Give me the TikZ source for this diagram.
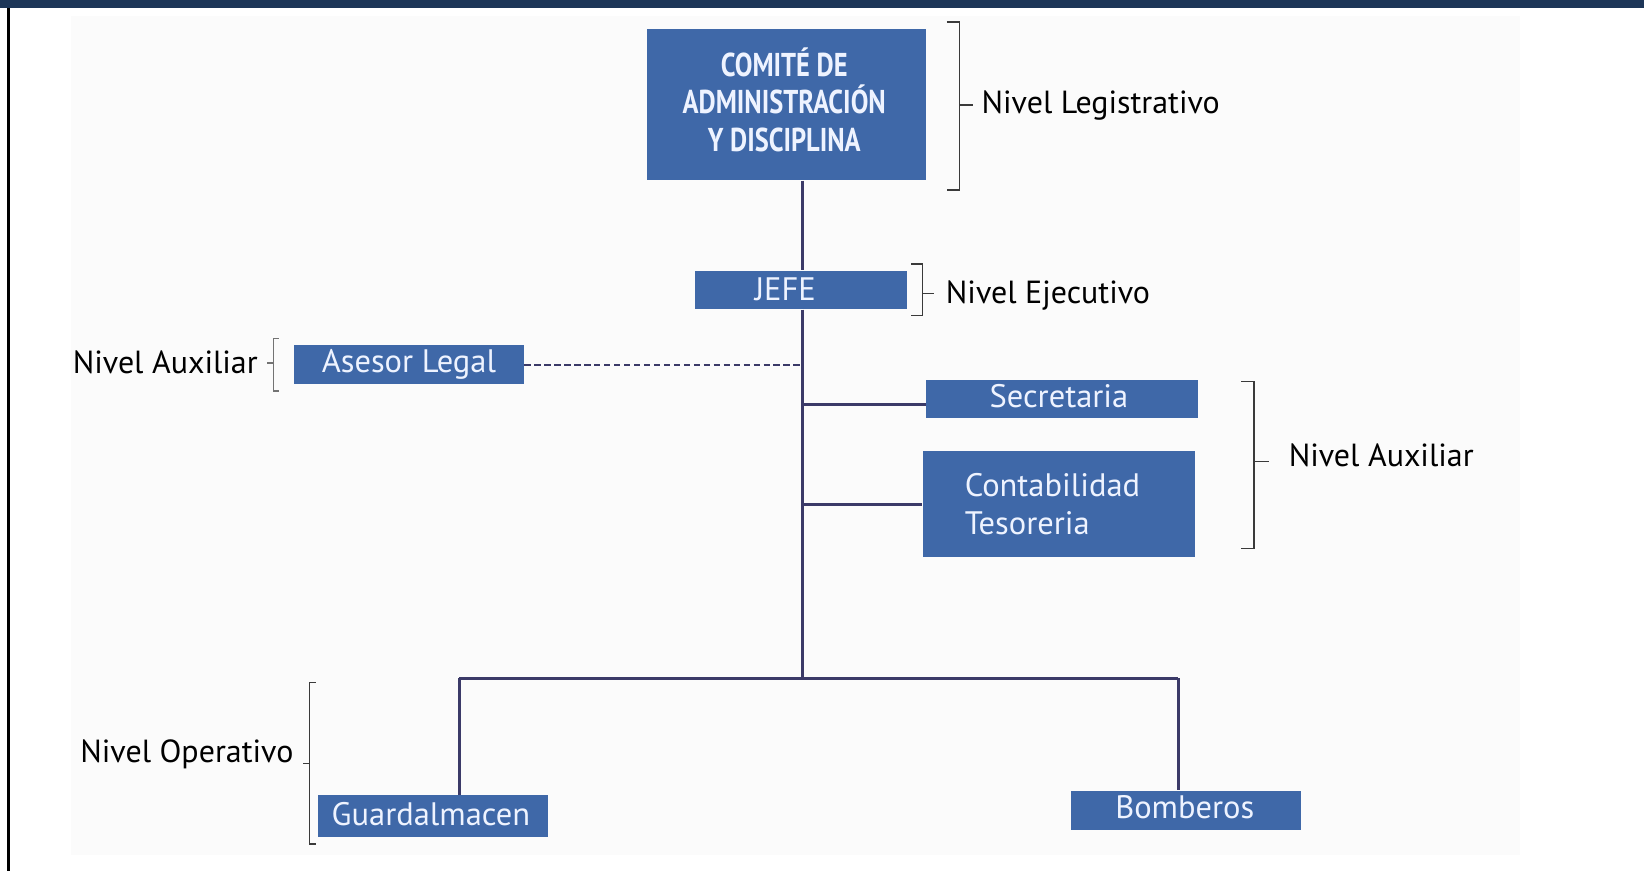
\documentclass[tikz,border=0pt]{standalone}
\usepackage{fontspec}
\setmainfont{PT Sans}
\newfontfamily\condfont[FakeStretch=0.8]{PT Sans}
\definecolor{boxblue}{HTML}{3F68A8}
\definecolor{linenavy}{HTML}{3B3A68}
\definecolor{bandnavy}{HTML}{1D3658}
\definecolor{brk}{HTML}{3A3A3A}
\definecolor{boxtext}{HTML}{EEF3FF}
\tikzset{
  orgbox/.style={fill=boxblue, text=boxtext, inner sep=0pt, font=\fontsize{31}{36}\selectfont},
  link/.style={draw=linenavy, line width=2.8pt},
  dashlink/.style={draw=linenavy, line width=2.2pt, dash pattern=on 6pt off 3.5pt},
  brace/.style={draw=brk, line width=1.4pt},
  lvl/.style={inner sep=0pt, font=\fontsize{30.5}{36}\selectfont, text=black}
}
\begin{document}
\begin{tikzpicture}[x=1pt,y=-1pt]
\useasboundingbox (0,0) rectangle (1568,831);
\fill[white] (0,0) rectangle (1568,831);
\fill[black!1.5] (68,15) rectangle (1450,815);
\fill[bandnavy] (0,0) rectangle (1568,8);
\fill[black] (7,8) rectangle (9.5,831);

% boxes
\node[orgbox, minimum width=266pt, minimum height=144pt] (com) at (750,100) {};
\node[orgbox, fill=none, align=center,
      font=\condfont\bfseries\fontsize{31.5}{36}\selectfont] (comtxt) at (748,95)
      {COMITÉ DE\\ADMINISTRACIÓN\\Y DISCIPLINA};
\node[orgbox, minimum width=202pt, minimum height=37pt] (jefe) at (764,276.5) {};
\node[orgbox, fill=none] (jefetxt) at (749,276) {JEFE};
\node[orgbox, minimum width=220pt, minimum height=37pt] (ase) at (390,347.5) {Asesor Legal};
\node[orgbox, minimum width=260pt, minimum height=37pt] (sec) at (1013,380.5) {};
\node[orgbox, fill=none] (sectxt) at (1010,378) {Secretaria};
\node[orgbox, minimum width=260pt, minimum height=101pt] (con) at (1010,480.5) {};
\node[lvl, text=boxtext, anchor=west, align=left, font=\fontsize{31}{36}\selectfont] (contxt) at (920,481) {Contabilidad\\Tesoreria};
\node[orgbox, minimum width=220pt, minimum height=40pt] (gua) at (413,778) {};
\node[orgbox, fill=none] (guatxt) at (411,776) {Guardalmacen};
\node[orgbox, minimum width=220pt, minimum height=38pt] (bom) at (1131,773) {};
\node[orgbox, fill=none] (bomtxt) at (1130,770) {Bomberos};

% connector points
\coordinate (hub) at (765,647);
\coordinate (dashend) at (765,348);
\coordinate (secj) at (765,386);
\coordinate (conj) at (765,481);
\coordinate (gl) at (438,647);
\coordinate (br) at (1124,647);

\draw[link] (com.south -| hub) -- (jefe.north -| hub);
\draw[link] (jefe.south -| hub) -- (hub);
\draw[link] (secj) -- (sec.west |- secj);
\draw[link] (conj) -- (con.west |- conj);
\draw[link] (gl) -- (br);
\draw[link] (gl) -- (gl |- gua.north);
\draw[link] (br) -- (br |- bom.north);
\draw[dashlink] (ase.east |- dashend) -- (dashend);

% brackets
\draw[brace] (903,21) -- (915,21) -- (915,181) -- (903,181);
\draw[brace] (915,100) -- (928,100);
\draw[brace] (869,252) -- (880,252) -- (880,301) -- (869,301);
\draw[brace] (880,280) -- (891,280);
\draw[brace] (1184,364) -- (1196,364) -- (1196,523) -- (1184,523);
\draw[brace] (1196,440) -- (1210,440);
\draw[brace, draw=black!55] (266,323) -- (261,323) -- (261,373) -- (266,373);
\draw[brace, draw=black!55] (261,346) -- (255,346);
\draw[brace] (301,651) -- (295,651) -- (295,805) -- (301,805);
\draw[brace] (295,728) -- (289,728);

% level labels
\node[lvl, anchor=west] (lleg) at (936,101) {Nivel Legistrativo};
\node[lvl, anchor=west] (leje) at (902,282) {Nivel Ejecutivo};
\node[lvl, anchor=east] (laux1) at (246,346) {Nivel Auxiliar};
\node[lvl, anchor=west] (laux2) at (1229,434) {Nivel Auxiliar};
\node[lvl, anchor=east] (lope) at (280,719) {Nivel Operativo};
\end{tikzpicture}
\end{document}
